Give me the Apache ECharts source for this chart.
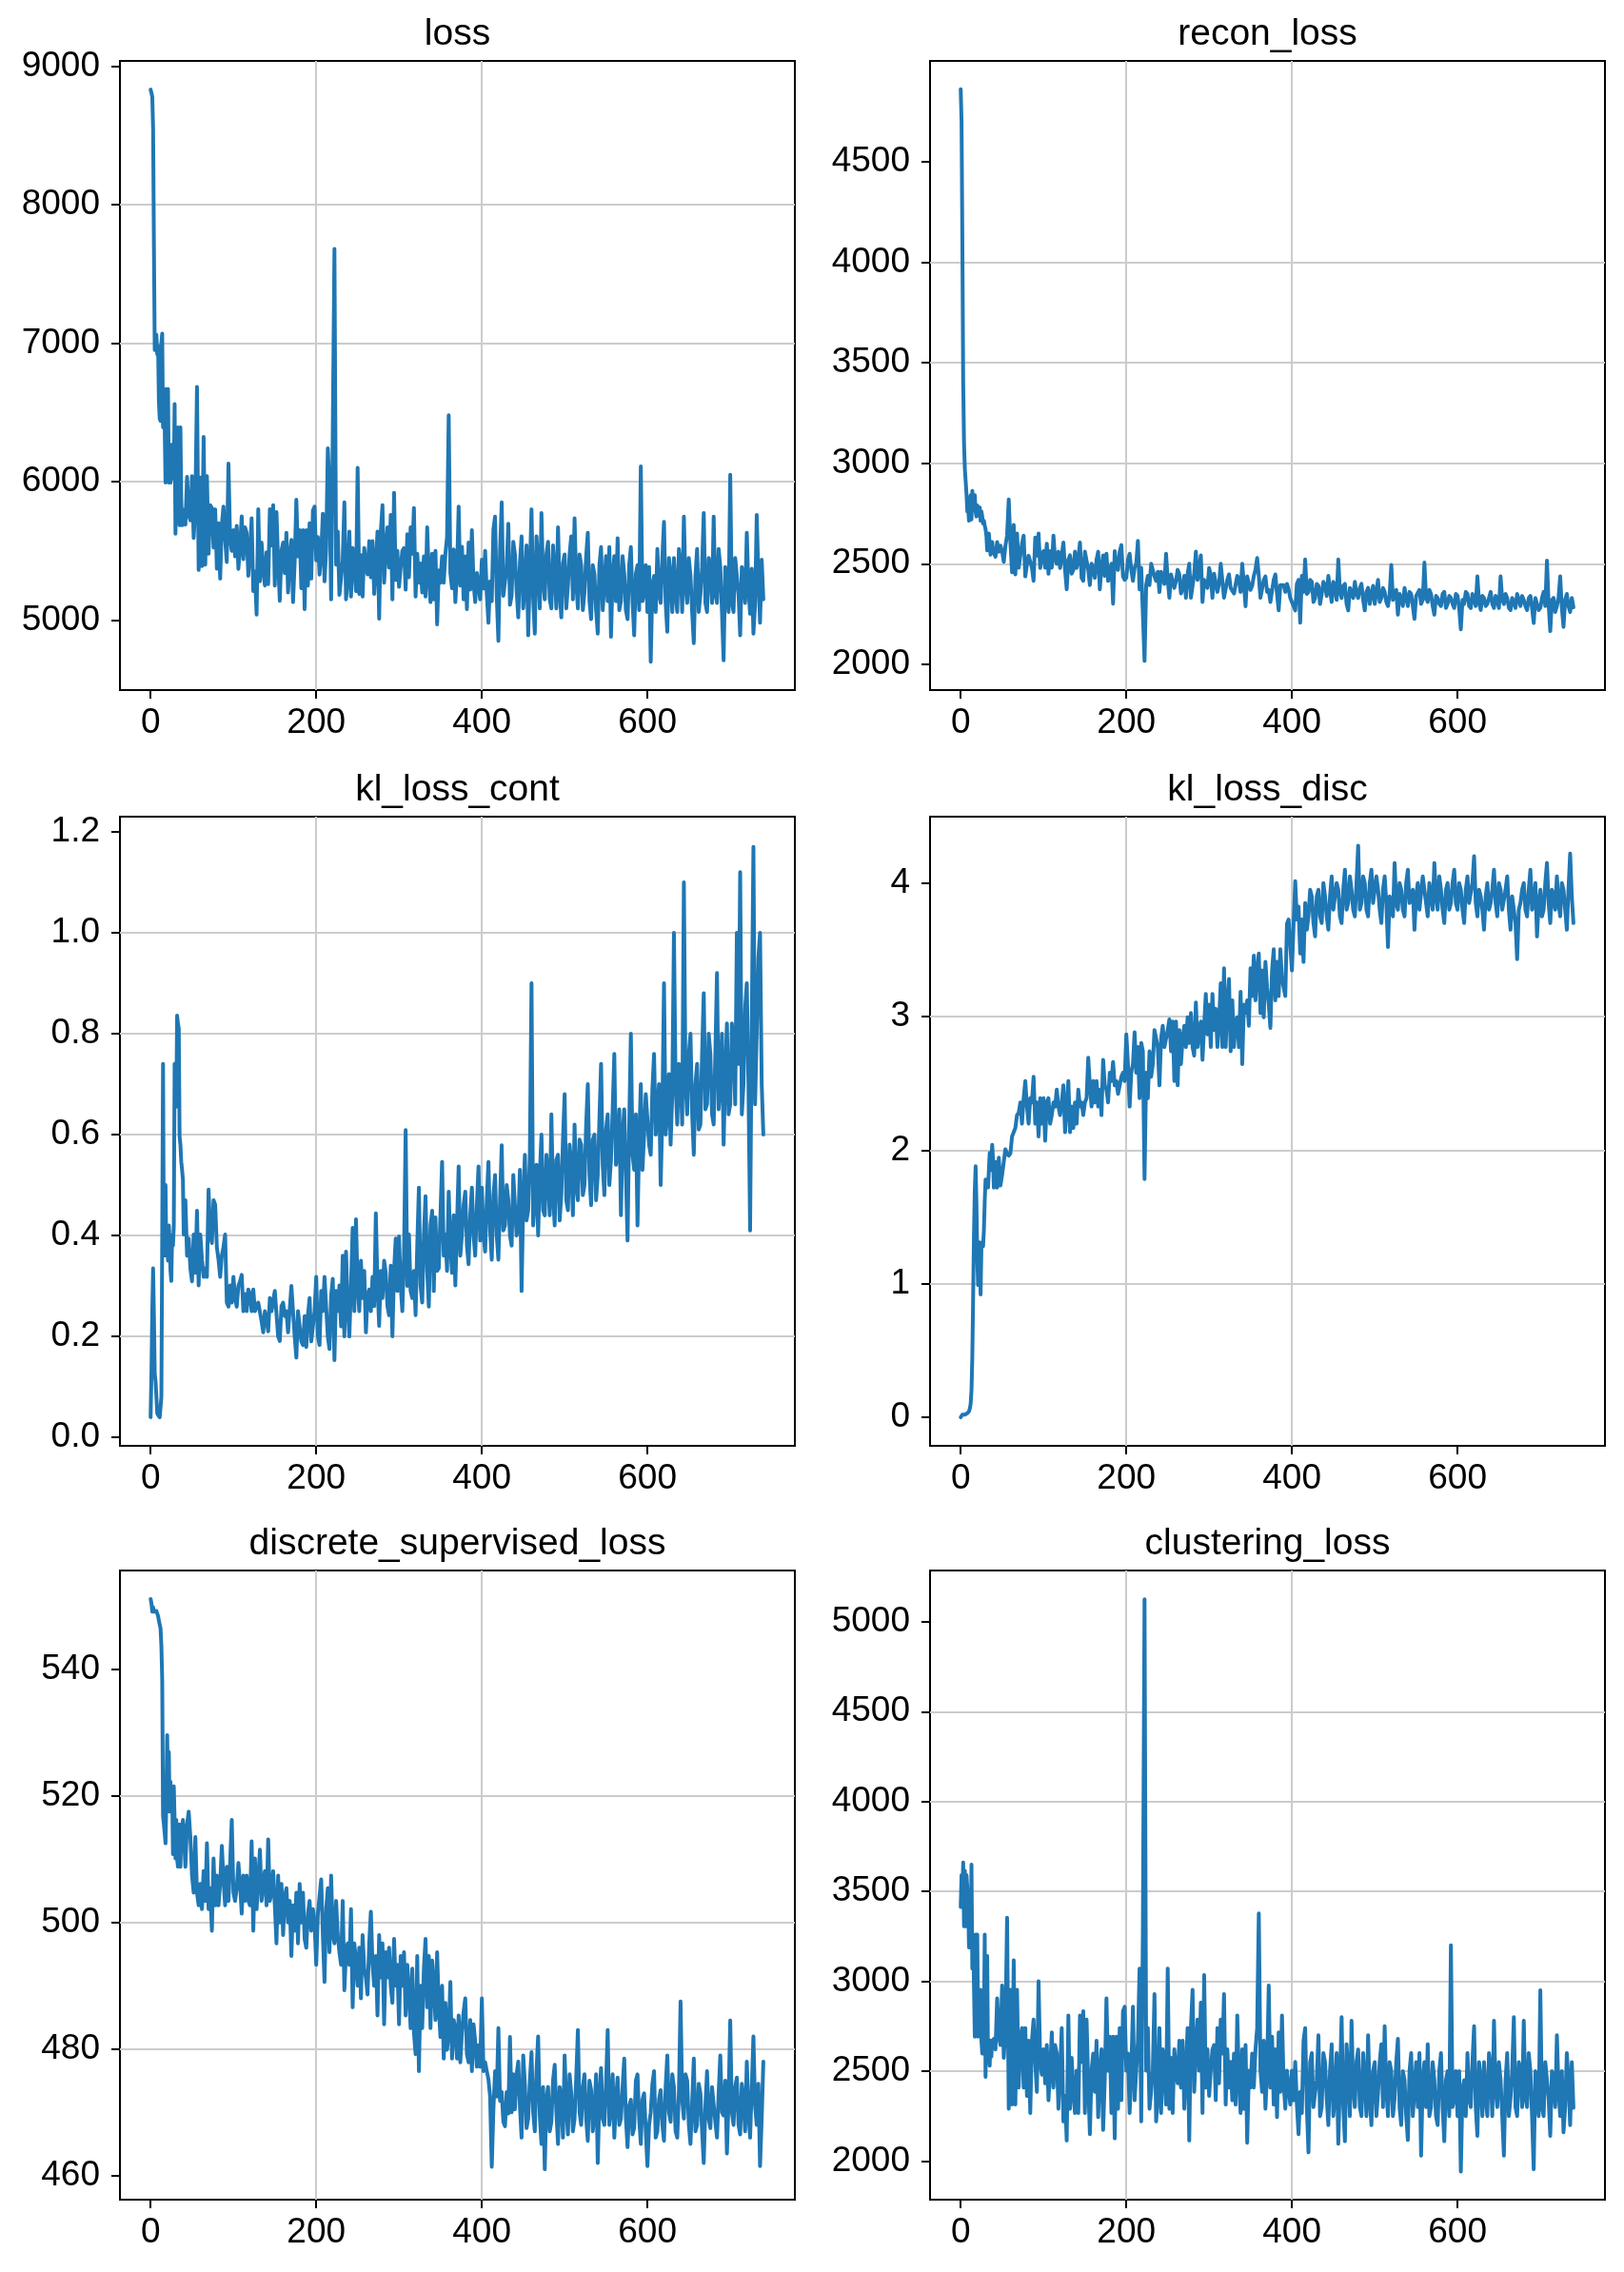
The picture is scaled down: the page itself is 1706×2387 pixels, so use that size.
<!DOCTYPE html>
<html><head><meta charset="utf-8">
<script src="https://cdn.jsdelivr.net/npm/echarts@6/dist/echarts.min.js"></script>
<style>html,body{margin:0;padding:0;background:#fff}#c{width:1706px;height:2387px}</style>
</head><body><div id="c"></div>
<script>
// ---------- categories ----------
const panelTitles = ['loss','recon_loss','kl_loss_cont','kl_loss_disc','discrete_supervised_loss','clustering_loss'];
// sampled epochs: every epoch for 0..39, then every 2nd epoch 40..740
const epochs = [];
for (let e = 0; e < 40; e++) epochs.push(e);
for (let e = 40; e <= 740; e += 2) epochs.push(e);

// ---------- tick labels ----------
const xTicks = [0, 200, 400, 600];
const lossTicks = [5000, 6000, 7000, 8000, 9000];
const reconTicks = [2000, 2500, 3000, 3500, 4000, 4500];
const klContTicks = [0, 0.2, 0.4, 0.6, 0.8, 1.0, 1.2];
const klDiscTicks = [0, 1, 2, 3, 4];
const discTicks = [460, 480, 500, 520, 540];
const clusterTicks = [2000, 2500, 3000, 3500, 4000, 4500, 5000];

// ---------- series values (epochs 0..39, then 40..740 every 2) ----------
const lossEarly = [
8831,8830,8780,8550,7700,6950,6960,7060,6920,6980,
6577,6454,6439,7000,7069,6392,6669,6392,5993,6669,
6023,6669,5993,6200,5993,6116,6269,6100,6023,6561,
5624,5900,6100,6392,5839,5685,6392,5870,5685,5800];
const lossMain = [
5755,5690,6034,5760,5720,6040,5594,5820,6684,5362,6030,5390,6323,5400,6040,5480,5830,5810,5524,5800,
5371,5700,5300,5690,5820,5580,5420,6130,5590,5500,5650,5460,5680,5370,5530,5750,5440,5670,5630,5320,
5490,5736,5210,5350,5040,5800,5280,5560,5366,5250,5490,5260,5800,5540,5830,5250,5780,5420,5140,5500,
5560,5340,5630,5200,5460,5580,5130,5420,5870,5460,5650,5230,5650,5080,5650,5250,5700,5300,5790,5820,
5431,5600,5329,5480,5769,5280,5510,6240,5955,5150,6370,7680,5400,5640,5183,5300,5430,5850,5150,5290,
5640,5170,5520,5400,5210,6100,5190,5470,5170,5520,5400,5330,5570,5310,5570,5190,5400,5640,5010,5640,
5830,5270,5500,5670,5380,5760,5150,5920,5290,5500,5240,5380,5500,5520,5220,5620,5310,5670,5480,5810,
5170,5480,5270,5410,5200,5460,5170,5670,5320,5130,5480,5150,5500,4970,5360,5270,5460,5270,5480,5600,
6480,5340,5230,5510,5130,5340,5820,5250,5530,5150,5460,5080,5560,5220,5650,5270,5130,5340,5250,5150,
5436,5228,5501,5189,4981,5280,5137,5657,5748,5176,4851,5501,5850,5176,5280,5371,5696,5111,5176,5566,
5475,5215,5020,5410,5605,5085,5254,5540,4890,5345,5800,5150,4903,5605,5410,5085,5774,5280,5150,5475,
5566,5150,5085,5540,5345,5085,5670,5215,5020,5410,5475,5085,5254,5475,5605,5150,5735,5280,5085,5475,
5397,5072,5202,5462,5631,5137,5007,5397,5332,5072,4903,5397,5527,5072,5267,5462,5137,5527,4880,5332,
5462,5137,5592,5072,5137,5462,5332,5072,5007,5397,5527,5137,4890,5332,5397,5072,6110,5137,5202,5397,
5059,5384,4700,5254,5319,5059,5514,5189,5124,5449,5709,5124,4916,5449,5319,5059,5449,5189,5059,5514,
5384,5059,5748,5254,5124,5449,5319,5059,4834,5319,5514,5059,5189,5384,5774,5124,5059,5449,5384,5124,
5748,5189,5124,5514,5384,5059,4710,5384,5254,5059,6050,5124,5059,5449,5449,5189,4890,5384,5319,5124,
5631,5228,5046,5371,4903,5111,5760,5306,4981,5436,5150];

const reconEarly = [
4859,4700,4100,3400,3100,2972,2909,2846,2760,2778,
2714,2790,2841,2720,2862,2790,2810,2841,2760,2735,
2790,2770,2740,2780,2714,2760,2735,2700,2714,2690,
2672,2640,2566,2620,2650,2600,2545,2580,2608,2570];
const reconMain = [
2556,2535,2608,2560,2590,2563,2510,2590,2640,2820,2606,2458,2693,2447,2651,2480,2542,2600,2640,2437,
2497,2540,2542,2480,2415,2630,2540,2651,2479,2540,2563,2480,2600,2450,2563,2480,2640,2520,2500,2560,
2479,2540,2606,2470,2373,2520,2542,2450,2470,2560,2479,2520,2606,2430,2415,2560,2560,2470,2394,2500,
2479,2430,2520,2560,2373,2480,2542,2440,2550,2415,2415,2500,2302,2563,2480,2470,2560,2593,2437,2420,
2430,2520,2550,2470,2415,2480,2500,2614,2373,2480,2480,2017,2394,2440,2394,2500,2500,2437,2415,2460,
2359,2460,2460,2400,2550,2420,2331,2447,2440,2380,2415,2470,2447,2352,2380,2440,2331,2450,2500,2331,
2331,2450,2560,2420,2470,2542,2310,2420,2420,2380,2479,2440,2331,2450,2450,2360,2400,2500,2500,2331,
2331,2420,2447,2380,2380,2352,2352,2440,2420,2360,2500,2400,2289,2437,2437,2370,2390,2440,2470,2529,
2440,2331,2331,2420,2437,2360,2370,2310,2310,2420,2447,2350,2268,2394,2394,2394,2360,2400,2373,2330,
2331,2290,2268,2400,2420,2207,2440,2360,2521,2350,2360,2420,2410,2310,2330,2400,2390,2300,2350,2410,
2394,2340,2440,2370,2310,2410,2380,2320,2521,2360,2330,2390,2400,2300,2268,2380,2360,2330,2410,2350,
2330,2380,2400,2320,2268,2360,2380,2300,2350,2390,2300,2360,2420,2310,2330,2380,2360,2310,2290,2350,
2494,2320,2340,2370,2247,2350,2330,2290,2380,2330,2290,2360,2350,2290,2226,2340,2340,2370,2300,2320,
2506,2330,2310,2370,2350,2290,2247,2340,2330,2300,2290,2350,2360,2280,2300,2340,2330,2300,2280,2350,
2340,2280,2174,2320,2300,2360,2350,2290,2280,2350,2320,2290,2437,2310,2270,2340,2330,2290,2300,2330,
2360,2300,2280,2340,2320,2280,2437,2320,2300,2350,2330,2280,2270,2330,2310,2280,2350,2320,2290,2340,
2320,2290,2270,2330,2340,2280,2205,2330,2330,2270,2280,2330,2360,2290,2515,2300,2165,2320,2330,2260,
2290,2330,2437,2280,2186,2320,2350,2290,2260,2330,2283];

const klContEarly = [
0.040,0.130,0.250,0.335,0.240,0.125,0.110,0.080,0.048,0.044,
0.043,0.040,0.042,0.080,0.400,0.740,0.360,0.420,0.500,0.360,
0.400,0.350,0.420,0.390,0.330,0.310,0.400,0.380,0.420,0.740,
0.700,0.655,0.836,0.820,0.810,0.596,0.580,0.546,0.530,0.510];
const klContMain = [
0.402,0.470,0.360,0.394,0.335,0.309,0.402,0.326,0.449,0.301,0.402,0.352,0.318,0.335,0.318,0.491,0.402,0.385,0.470,0.461,
0.377,0.352,0.318,0.360,0.377,0.402,0.267,0.259,0.301,0.267,0.318,0.276,0.259,0.300,0.309,0.322,0.250,0.284,0.250,0.293,
0.284,0.250,0.293,0.250,0.250,0.267,0.267,0.230,0.208,0.250,0.234,0.210,0.276,0.250,0.250,0.290,0.293,0.200,0.191,0.260,
0.267,0.240,0.250,0.208,0.208,0.300,0.301,0.200,0.158,0.250,0.250,0.190,0.183,0.240,0.179,0.242,0.276,0.190,0.191,0.250,
0.318,0.200,0.183,0.290,0.250,0.318,0.318,0.200,0.175,0.280,0.314,0.153,0.290,0.250,0.301,0.220,0.360,0.200,0.368,0.260,
0.200,0.300,0.415,0.250,0.432,0.300,0.250,0.350,0.276,0.330,0.208,0.280,0.293,0.250,0.318,0.260,0.444,0.300,0.221,0.330,
0.276,0.350,0.326,0.260,0.242,0.340,0.200,0.330,0.394,0.290,0.398,0.300,0.250,0.360,0.609,0.300,0.402,0.290,0.276,0.330,
0.242,0.380,0.495,0.300,0.267,0.400,0.478,0.330,0.259,0.420,0.449,0.290,0.436,0.330,0.335,0.440,0.546,0.360,0.402,0.330,
0.487,0.380,0.326,0.440,0.301,0.420,0.537,0.360,0.402,0.460,0.487,0.380,0.343,0.440,0.495,0.400,0.360,0.460,0.537,0.390,
0.495,0.400,0.368,0.470,0.546,0.410,0.352,0.480,0.520,0.400,0.352,0.470,0.579,0.410,0.420,0.500,0.470,0.400,0.380,0.520,
0.520,0.400,0.420,0.530,0.290,0.470,0.560,0.430,0.450,0.560,0.900,0.420,0.470,0.540,0.400,0.520,0.600,0.450,0.440,0.560,
0.520,0.440,0.640,0.480,0.420,0.550,0.560,0.430,0.480,0.590,0.680,0.470,0.450,0.580,0.540,0.440,0.620,0.500,0.470,0.590,
0.580,0.480,0.500,0.620,0.700,0.520,0.460,0.590,0.600,0.470,0.520,0.630,0.740,0.540,0.480,0.610,0.640,0.500,0.550,0.650,
0.760,0.540,0.560,0.650,0.440,0.600,0.650,0.520,0.390,0.620,0.800,0.560,0.530,0.640,0.420,0.590,0.700,0.530,0.600,0.680,
0.680,0.580,0.560,0.690,0.760,0.600,0.600,0.700,0.500,0.640,0.900,0.600,0.640,0.720,0.580,0.680,1.000,0.700,0.620,0.740,
0.720,0.620,1.100,0.700,0.640,0.760,0.800,0.640,0.560,0.700,0.740,0.610,0.620,0.760,0.880,0.650,0.660,0.800,0.760,0.640,
0.620,0.760,0.920,0.650,0.700,0.800,0.580,0.720,0.820,0.640,0.660,0.820,0.780,0.660,1.000,0.740,1.120,0.640,0.700,0.850,
0.900,0.700,0.410,0.820,1.170,0.660,0.800,0.950,1.000,0.700,0.600];

const klDiscEarly = [
0.000,0.010,0.020,0.030,0.025,0.020,0.015,0.020,0.030,0.035,
0.045,0.065,0.100,0.200,0.450,0.900,1.370,1.700,1.880,1.600,
1.200,0.990,1.100,1.310,0.920,1.280,1.310,1.280,1.400,1.620,
1.780,1.720,1.750,1.720,1.850,1.980,1.850,1.910,2.040,1.940];
const klDiscMain = [
1.720,1.911,1.720,1.943,1.736,1.816,1.911,2.007,1.975,1.959,1.975,2.103,2.134,2.166,2.262,2.278,2.357,2.198,2.389,2.517,
2.326,2.198,2.389,2.357,2.549,2.198,2.357,2.103,2.389,2.198,2.389,2.071,2.357,2.389,2.198,2.262,2.357,2.326,2.453,2.326,
2.262,2.357,2.485,2.134,2.326,2.517,2.134,2.326,2.166,2.357,2.198,2.453,2.326,2.357,2.262,2.357,2.389,2.692,2.485,2.326,
2.517,2.357,2.517,2.326,2.453,2.262,2.676,2.485,2.453,2.357,2.580,2.517,2.660,2.485,2.517,2.421,2.485,2.549,2.580,2.517,
2.867,2.644,2.326,2.580,2.644,2.883,2.580,2.772,2.389,2.803,2.740,1.784,2.580,2.389,2.740,2.549,2.644,2.899,2.899,2.772,
2.485,2.835,2.931,2.772,2.835,2.899,2.979,2.740,2.963,2.517,2.963,2.485,2.899,2.644,2.835,2.931,2.772,2.995,2.803,3.026,
2.772,2.708,3.106,2.772,2.899,2.963,2.676,2.931,3.170,2.867,3.090,2.772,3.170,2.899,3.058,2.772,2.963,3.249,2.772,3.361,
2.772,3.090,3.281,2.740,3.122,2.772,2.963,2.995,2.772,3.186,2.644,3.090,3.026,3.122,2.931,3.361,3.154,3.457,3.122,3.345,
3.472,3.026,3.345,2.995,3.409,3.218,3.090,2.915,3.345,3.504,3.122,3.409,3.154,3.504,3.281,3.281,3.154,3.695,3.727,3.727,
3.345,3.695,4.014,3.727,3.823,3.472,3.727,3.409,3.850,3.650,3.750,3.950,3.900,3.700,3.600,3.900,3.950,3.750,3.700,4.000,
3.900,3.750,3.650,3.900,4.050,3.800,3.800,4.000,3.950,3.750,3.700,3.950,4.100,3.800,3.850,4.050,3.950,3.800,3.750,4.000,
4.280,3.800,3.850,4.050,4.000,3.800,3.750,4.000,4.100,3.850,3.850,4.050,3.950,3.800,3.700,3.950,4.050,3.850,3.520,3.900,
3.900,3.750,4.150,3.850,3.800,4.000,3.950,3.800,3.750,4.000,4.100,3.850,3.850,3.950,3.650,3.900,4.000,3.800,3.800,4.050,
4.050,3.850,3.750,4.000,3.900,3.800,4.150,3.900,3.800,4.050,3.950,3.800,3.700,3.950,4.000,3.800,3.850,4.000,4.100,3.850,
3.800,4.000,3.950,3.800,3.700,3.950,4.050,3.850,3.850,4.000,4.200,3.850,3.750,3.950,3.900,3.800,3.650,3.900,4.000,3.800,
3.850,3.950,4.100,3.850,3.750,4.000,3.950,3.800,3.800,3.950,4.050,3.800,3.650,3.900,3.900,3.700,3.430,3.800,3.850,3.950,
4.000,3.800,3.750,3.950,4.100,3.800,3.850,4.000,3.600,3.850,3.950,3.750,3.800,4.000,4.150,3.850,3.700,3.950,3.900,3.800,
4.050,3.850,3.750,4.000,3.950,3.800,3.650,3.950,4.220,3.900,3.700];

const discEarly = [
551.1,550.4,549.1,549.8,549.1,549.4,549.1,549.2,548.8,548.4,
547.7,547.4,546.4,543.7,538.3,516.8,515.5,514.1,512.5,519.5,
529.6,520.2,526.9,517.5,522.2,518.8,520.8,510.8,521.5,516.2,
510.1,516.2,510.1,508.8,508.8,515.5,508.8,513.5,514.1,516.2];
const discMain = [
514.1,508.8,515.5,517.5,513.5,507.4,504.7,513.5,504.7,502.7,506.1,502.1,508.1,503.4,512.5,502.1,505.4,498.7,510.1,502.7,
507.4,502.7,506.1,512.1,506.8,502.7,508.8,503.4,509.4,516.2,504.7,503.4,505.4,509.4,506.1,501.4,507.4,503.4,507.4,503.4,
502.7,512.8,498.7,510.1,502.1,502.1,511.5,503.4,506.1,508.1,502.7,513.1,503.4,504.7,508.1,502.7,496.7,507.4,500.0,506.1,
498.0,504.1,505.4,500.0,503.4,494.7,502.7,498.7,504.7,496.7,506.1,500.0,504.7,497.4,496.0,501.4,503.4,498.7,502.1,500.0,
493.3,501.4,504.1,506.8,498.0,490.6,502.1,505.4,495.3,507.4,498.0,496.7,503.4,498.0,495.3,493.3,503.4,489.3,495.3,496.7,
493.3,502.1,486.6,496.7,494.0,490.0,496.0,488.0,498.0,492.7,491.3,488.6,496.7,501.7,493.3,490.0,494.7,485.3,498.0,491.3,
496.7,483.9,495.3,491.3,496.0,490.0,487.3,497.4,490.0,493.3,483.9,494.7,490.0,495.3,485.3,493.3,489.3,483.3,492.7,482.6,
479.2,494.7,476.5,490.0,483.3,492.7,497.4,486.6,494.7,483.3,494.0,490.0,484.6,495.3,486.6,481.9,490.0,478.5,487.3,479.9,
482.6,490.6,478.5,484.6,483.3,478.5,485.3,477.9,482.6,485.9,488.0,479.2,477.9,484.6,476.5,483.9,481.2,477.2,480.6,477.2,
488.0,476.5,477.9,476.5,475.2,472.5,461.4,470.5,476.5,472.5,483.3,471.8,473.2,468.5,467.8,473.2,469.8,481.9,470.0,476.0,
470.5,476.0,478.0,471.0,466.0,479.0,474.5,467.5,469.0,475.0,479.5,470.0,467.0,476.5,482.0,469.5,465.0,474.0,461.0,472.0,
474.0,467.0,468.5,475.0,477.5,470.0,465.0,474.0,472.5,466.0,479.0,471.0,466.5,476.0,473.0,467.0,469.0,475.5,483.0,470.0,
468.0,474.0,476.0,469.0,465.5,475.0,473.5,467.0,470.0,476.0,462.0,472.5,477.0,469.0,468.0,474.5,483.0,468.0,470.5,476.0,
466.0,472.0,475.5,468.0,469.0,474.0,478.5,469.0,464.5,471.0,472.0,466.5,467.5,475.0,476.0,469.0,465.0,472.0,473.0,467.0,
461.5,468.0,470.0,474.5,476.5,466.0,467.0,472.0,473.5,468.0,465.5,474.0,479.0,470.0,468.5,476.0,474.0,467.0,466.0,473.0,
487.5,472.0,469.0,476.0,475.0,468.0,465.0,471.5,478.5,467.0,468.0,474.5,473.0,467.0,462.0,471.0,476.5,469.0,467.5,474.0,
474.0,468.5,466.0,473.0,479.0,470.0,469.5,475.0,463.5,472.0,484.5,470.0,468.0,474.0,475.5,468.0,466.5,474.5,472.0,467.0,
478.0,470.0,466.0,474.0,482.0,471.0,468.0,474.5,461.5,469.0,478.0];

const clusterEarly = [
3413,3590,3480,3661,3306,3614,3306,3590,3590,3448,
3188,3448,3188,3649,3070,3259,2976,2692,3259,2787,
3259,2692,2740,2834,2952,2670,2598,2930,2720,3259,
2468,2834,3141,2550,2670,2530,2670,2580,2670,2650];
const clusterMain = [
2680,2621,2905,2692,2645,2976,2574,2740,3354,2291,2952,2314,3117,2314,2952,2409,2669,2740,2409,2740,
2362,2669,2267,2669,2787,2551,2385,3000,2551,2480,2621,2432,2645,2338,2503,2716,2409,2645,2598,2291,
2503,2739,2220,2362,2114,2810,2291,2574,2385,2267,2503,2267,2810,2551,2834,2267,2787,2432,2149,2503,
2598,2385,2669,2244,2503,2621,2173,2456,2905,2503,2692,2267,2692,2126,2692,2291,2740,2338,2834,2858,
2503,2598,2267,2503,2858,2338,2503,2669,3070,2220,3283,5125,2503,2740,2291,2385,2503,2929,2220,2362,
2740,2267,2621,2503,2314,3070,2291,2574,2267,2621,2503,2432,2669,2409,2669,2291,2503,2740,2114,2740,
2952,2385,2621,2787,2503,2881,2267,3035,2409,2621,2362,2503,2621,2645,2338,2740,2432,2787,2598,2929,
2314,2621,2409,2551,2338,2598,2314,2810,2456,2267,2621,2291,2645,2102,2503,2409,2598,2409,2621,2740,
3377,2503,2385,2669,2291,2503,2976,2409,2692,2314,2621,2244,2716,2385,2810,2432,2291,2503,2409,2314,
2503,2338,2551,2314,2149,2385,2267,2669,2740,2300,2048,2550,2600,2300,2380,2450,2700,2250,2300,2600,
2550,2350,2200,2500,2650,2250,2380,2600,2096,2450,2800,2300,2110,2650,2500,2250,2780,2400,2300,2550,
2620,2300,2250,2600,2450,2250,2700,2350,2200,2500,2550,2250,2380,2550,2650,2300,2750,2400,2250,2550,
2500,2250,2350,2550,2680,2300,2200,2500,2450,2250,2117,2500,2600,2250,2400,2550,2300,2600,2030,2450,
2550,2300,2650,2250,2300,2550,2450,2250,2200,2500,2600,2300,2110,2450,2500,2250,3200,2300,2350,2500,
2250,2500,1941,2400,2450,2250,2600,2350,2300,2550,2750,2300,2140,2550,2450,2250,2550,2350,2250,2600,
2500,2250,2780,2400,2300,2550,2450,2250,2030,2450,2600,2250,2350,2500,2800,2300,2250,2550,2500,2300,
2780,2350,2300,2600,2500,2250,1954,2500,2400,2250,2950,2300,2250,2550,2550,2350,2140,2500,2450,2300,
2700,2400,2250,2500,2160,2300,2600,2450,2200,2550,2296];

// ---------- layout / style (not data) ----------
const FONT = '"Liberation Sans", Arial, Helvetica, sans-serif';
const FS = 37, TITLE_FS = 39;
const colLeft = [126, 977];
const rowTop = [64, 858, 1650];
const PW = 709, PH = 661;
const X_MIN = -37.05, X_MAX = 778.05;

const panels = [
  {title: panelTitles[0], early: lossEarly,    main: lossMain,    ticks: lossTicks,    dec: 0, yMin: 4495,    yMax: 9038},
  {title: panelTitles[1], early: reconEarly,   main: reconMain,   ticks: reconTicks,   dec: 0, yMin: 1872,    yMax: 5000},
  {title: panelTitles[2], early: klContEarly,  main: klContMain,  ticks: klContTicks,  dec: 1, yMin: -0.0168, yMax: 1.230},
  {title: panelTitles[3], early: klDiscEarly,  main: klDiscMain,  ticks: klDiscTicks,  dec: 0, yMin: -0.2135, yMax: 4.4965},
  {title: panelTitles[4], early: discEarly,    main: discMain,    ticks: discTicks,    dec: 0, yMin: 456.2,   yMax: 555.6},
  {title: panelTitles[5], early: clusterEarly, main: clusterMain, ticks: clusterTicks, dec: 0, yMin: 1785,    yMax: 5285}
];

function tickFormatter(ticks, dec) {
  return function (v) {
    for (const t of ticks) { if (Math.abs(t - v) < 1e-6 * Math.max(1, Math.abs(t))) return t.toFixed(dec); }
    return '';
  };
}

const titles = [], grids = [], xAxes = [], yAxes = [], series = [];
panels.forEach((p, i) => {
  const col = i % 2, row = Math.floor(i / 2);
  const left = colLeft[col], top = rowTop[row];
  titles.push({
    text: p.title, left: left + PW / 2, top: top - 28, textAlign: 'center', textVerticalAlign: 'middle', padding: 0,
    textStyle: {fontFamily: FONT, fontSize: TITLE_FS, fontWeight: 'normal', color: '#000'}
  });
  grids.push({left: left, top: top, width: PW, height: PH, show: true, borderColor: '#000', borderWidth: 2,
    backgroundColor: 'transparent', containLabel: false, outerBoundsMode: 'none'});
  xAxes.push({
    type: 'value', gridIndex: i, min: X_MIN, max: X_MAX, splitNumber: 4,
    axisLine: {show: false, onZero: false},
    axisTick: {show: true, length: 9, lineStyle: {color: '#000', width: 2}, customValues: xTicks},
    axisLabel: {show: true, customValues: xTicks, margin: 16, fontFamily: FONT, fontSize: FS, color: '#000',
      formatter: tickFormatter(xTicks, 0), hideOverlap: false},
    splitLine: {show: true, showMinLine: false, showMaxLine: false, lineStyle: {color: '#cccccc', width: 2}}
  });
  yAxes.push({
    type: 'value', gridIndex: i, min: p.yMin, max: p.yMax, splitNumber: p.ticks.length,
    axisLine: {show: false, onZero: false},
    axisTick: {show: true, length: 9, lineStyle: {color: '#000', width: 2}, customValues: p.ticks},
    axisLabel: {show: true, customValues: p.ticks, margin: 21, fontFamily: FONT, fontSize: FS, color: '#000',
      formatter: tickFormatter(p.ticks, p.dec), hideOverlap: false},
    splitLine: {show: true, showMinLine: false, showMaxLine: false, lineStyle: {color: '#cccccc', width: 2}}
  });
  const vals = p.early.concat(p.main);
  series.push({
    type: 'line', xAxisIndex: i, yAxisIndex: i, showSymbol: false, symbol: 'none', silent: true,
    sampling: null, clip: true,
    lineStyle: {color: '#1f77b4', width: 4, join: 'round', cap: 'round'},
    itemStyle: {color: '#1f77b4'},
    emphasis: {disabled: true},
    data: epochs.map((e, k) => [e, vals[k]])
  });
});

const chart = echarts.init(document.getElementById('c'), null, {renderer: 'canvas', width: 1706, height: 2387});
chart.setOption({
  animation: false,
  backgroundColor: '#ffffff',
  title: titles, grid: grids, xAxis: xAxes, yAxis: yAxes, series: series,
  tooltip: {show: false}
});
</script>
</body></html>
